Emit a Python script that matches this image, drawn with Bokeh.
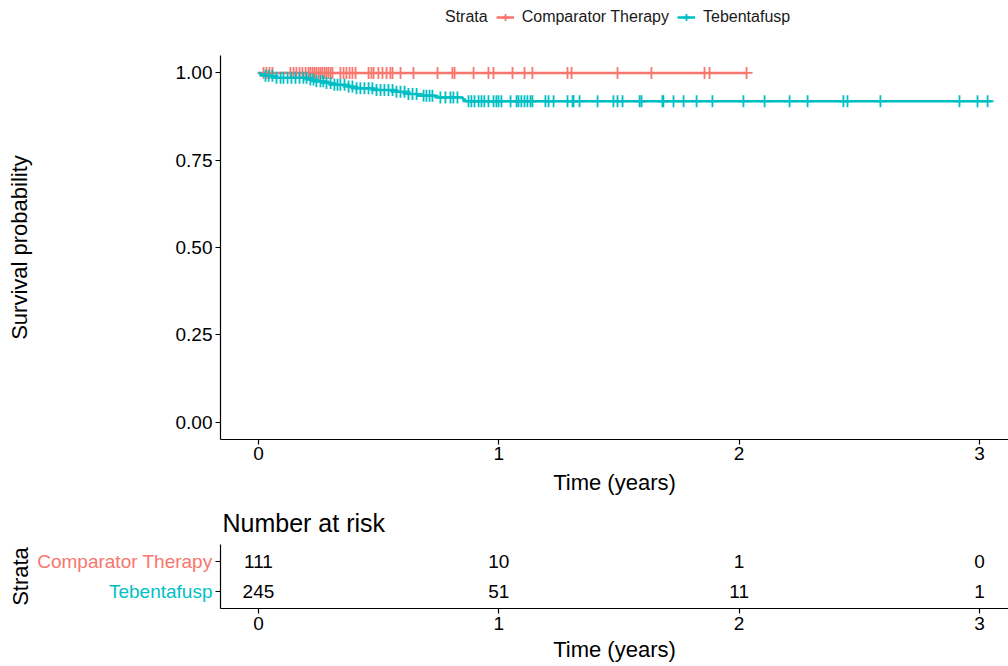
import numpy as np
from bokeh.plotting import figure
from bokeh.models import (ColumnDataSource, Range1d, FixedTicker, Legend, LegendItem,
                          NumeralTickFormatter)
from bokeh.layouts import column, row
from bokeh.embed import file_html
from bokeh.resources import INLINE
from bokeh.core.properties import value

# ---------------- data ----------------
strata = ["Comparator Therapy", "Tebentafusp"]
colors = ["#F8766D", "#00BFC4"]

# Tebentafusp KM steps (time in years, survival after the event)
teb_event_times = [0.008, 0.025, 0.06, 0.21, 0.23, 0.28, 0.31, 0.37, 0.40, 0.48,
                   0.57, 0.62, 0.66, 0.74, 0.85, 0.86]
teb_event_surv = [0.996, 0.992, 0.986, 0.981, 0.976, 0.971, 0.966, 0.961, 0.956, 0.951,
                  0.946, 0.940, 0.935, 0.930, 0.925, 0.919]
teb_end_time = 3.05
teb_censor_times = [0.029, 0.042, 0.058, 0.075, 0.092, 0.104, 0.121, 0.137, 0.154, 0.171,
                    0.187, 0.200, 0.216, 0.229, 0.241, 0.258, 0.270, 0.283, 0.300, 0.316,
                    0.329, 0.341, 0.358, 0.375, 0.391, 0.408, 0.424, 0.441, 0.458, 0.474,
                    0.491, 0.508, 0.524, 0.541, 0.558, 0.574, 0.591, 0.608, 0.624, 0.641,
                    0.658, 0.687, 0.699, 0.712, 0.724, 0.757, 0.778, 0.799, 0.811, 0.828,
                    0.874, 0.886, 0.899, 0.916, 0.928, 0.940, 0.957, 0.978, 0.990, 0.999,
                    1.011, 1.049, 1.074, 1.082, 1.094, 1.107, 1.119, 1.132, 1.140, 1.194,
                    1.207, 1.228, 1.286, 1.307, 1.311, 1.336, 1.411, 1.477, 1.494, 1.515,
                    1.586, 1.594, 1.681, 1.685, 1.727, 1.769, 1.823, 1.889, 2.018, 2.106,
                    2.210, 2.285, 2.434, 2.451, 2.588, 2.917, 2.992, 3.034]

# Comparator therapy: no events
comp_event_times = []
comp_event_surv = []
comp_end_time = 2.035
comp_censor_times = [0.021, 0.033, 0.046, 0.058, 0.133, 0.146, 0.158, 0.171, 0.183, 0.196,
                     0.208, 0.216, 0.225, 0.233, 0.241, 0.250, 0.258, 0.266, 0.275, 0.283,
                     0.291, 0.300, 0.308, 0.341, 0.354, 0.366, 0.379, 0.391, 0.404, 0.458,
                     0.470, 0.479, 0.499, 0.516, 0.533, 0.549, 0.558, 0.591, 0.645, 0.745,
                     0.807, 0.816, 0.895, 0.957, 0.978, 1.057, 1.107, 1.140, 1.286, 1.303,
                     1.494, 1.635, 1.856, 1.877, 2.031]

risk_times = [0, 1, 2, 3]
risk_comp = [111, 10, 1, 0]
risk_teb = [245, 51, 11, 1]

y_ticks = [0, 0.25, 0.5, 0.75, 1.0]
x_ticks = [0, 1, 2, 3]

FONT = "Liberation Sans"
TXT = "#000000"
X0, X1 = -0.158, 3.121
LW = 2.5
MSIZE = 12
MLW = 1.8


def surv_at(times, ev_t, ev_s):
    out = []
    for t in times:
        s = 1.0
        for et, es in zip(ev_t, ev_s):
            if et <= t:
                s = es
        out.append(s)
    return out


def step_xy(ev_t, ev_s, end):
    xs = [0.0] + list(ev_t) + [end]
    ys = [1.0] + list(ev_s) + [ev_s[-1] if ev_s else 1.0]
    return xs, ys


def style_axis(ax):
    ax.axis_line_color = TXT
    ax.axis_line_width = 1.2
    ax.major_tick_line_color = TXT
    ax.major_tick_line_width = 1.2
    ax.major_tick_out = 5
    ax.major_tick_in = 0
    ax.minor_tick_line_color = None
    ax.major_label_text_font = FONT
    ax.major_label_text_font_size = "19px"
    ax.major_label_text_color = TXT
    ax.axis_label_text_font = FONT
    ax.axis_label_text_font_size = "22px"
    ax.axis_label_text_font_style = "normal"
    ax.axis_label_text_color = TXT


# ---------------- legend strip ----------------
lg = figure(width=1008, height=55, x_range=Range1d(0, 1), y_range=Range1d(0, 1),
            x_axis_type=None, y_axis_type=None, output_backend="svg", toolbar_location=None,
            min_border_left=0, min_border_right=0, min_border_top=0, min_border_bottom=0)
lg.outline_line_color = None
lg.grid.visible = False
items = []
# proxy renderers (their single point lies outside the strip's ranges, so only the
# legend keys are visible)
dummy = lg.scatter(x=[5], y=[5], marker="circle", size=1, line_alpha=0, fill_alpha=0)
items.append(LegendItem(label="Strata", renderers=[dummy]))
for name, col in zip(strata, colors):
    l_ = lg.line(x=[5, 6], y=[5, 5], line_color=col, line_width=LW)
    s_ = lg.scatter(x=[5], y=[5], marker="cross", size=MSIZE, line_color=col,
                    line_width=MLW)
    items.append(LegendItem(label=name, renderers=[l_, s_]))
leg = Legend(items=items, orientation="horizontal", location=(199, 27),
             border_line_color=None, background_fill_alpha=0, padding=0, margin=0,
             spacing=8, glyph_width=18, glyph_height=22, label_standoff=8,
             label_text_font=FONT, label_text_font_size="16px",
             label_text_color="#1a1a1a")
lg.add_layout(leg, "center")

# ---------------- main KM plot ----------------
p = figure(width=1008, height=444, x_range=Range1d(X0, X1), y_range=Range1d(-0.05, 1.05),
           output_backend="svg", toolbar_location=None,
           min_border_left=220, min_border_right=0, min_border_top=0, min_border_bottom=60)
p.outline_line_color = None
p.grid.visible = False

groups = [
    (comp_event_times, comp_event_surv, comp_end_time, comp_censor_times, colors[0]),
    (teb_event_times, teb_event_surv, teb_end_time, teb_censor_times, colors[1]),
]
for name, (et, es, end, ct, col) in zip(strata, groups):
    xs, ys = step_xy(et, es, end)
    p.step(x=xs, y=ys, mode="after", line_color=col, line_width=LW)
    src = ColumnDataSource(dict(t=ct, s=surv_at(ct, et, es)))
    p.scatter(x="t", y="s", source=src, marker="cross", size=MSIZE, line_color=col,
              line_width=MLW)

style_axis(p.xaxis[0])
style_axis(p.yaxis[0])
p.yaxis.ticker = FixedTicker(ticks=y_ticks)
p.yaxis.formatter = NumeralTickFormatter(format="0.00")
p.yaxis.major_label_standoff = 3
p.yaxis.axis_label = "Survival probability"
p.yaxis.axis_label_standoff = 141

p.xaxis.ticker = FixedTicker(ticks=x_ticks)
p.xaxis.major_label_standoff = 2
p.xaxis.axis_label = "Time (years)"
p.xaxis.axis_label_standoff = 7

# ---------------- risk table ----------------
RT_TOP, RT_BOT, RT_H = 45, 58, 167
yr = Range1d(0.4, 2.6)

rl = figure(width=214, height=RT_H, x_range=Range1d(0, 214), y_range=yr,
            x_axis_type=None, y_axis_type=None, output_backend="svg", toolbar_location=None,
            min_border_left=0, min_border_right=0, min_border_top=RT_TOP,
            min_border_bottom=RT_BOT)
rl.outline_line_color = None
rl.grid.visible = False
lab_src = ColumnDataSource(dict(x=[212, 212], y=[2, 1], txt=strata, col=colors))
rl.text(x="x", y="y", text="txt", text_color="col", source=lab_src, text_align="right",
        text_baseline="middle", text_font=value(FONT), text_font_size="19px")
rl.text(x=[20], y=[1.5], text=["Strata"], angle=np.pi / 2, text_align="center",
        text_baseline="middle", text_font=value(FONT), text_font_size="22px",
        text_color=TXT)

r = figure(width=1008 - 214, height=RT_H, x_range=Range1d(X0, X1), y_range=yr,
           output_backend="svg", toolbar_location=None,
           min_border_left=6, min_border_right=0, min_border_top=RT_TOP,
           min_border_bottom=RT_BOT, title="Number at risk")
r.outline_line_color = None
r.grid.visible = False
r.title.text_font = FONT
r.title.text_font_size = "25px"
r.title.text_font_style = "normal"
r.title.text_color = TXT
r.title.align = "left"
r.title.offset = 2
r.title.standoff = 15

rows_ = [(risk_comp, 2), (risk_teb, 1)]
for counts, yy in rows_:
    src = ColumnDataSource(dict(x=risk_times, y=[yy] * len(risk_times),
                                txt=[str(c) for c in counts]))
    r.text(x="x", y="y", text="txt", source=src, text_align="center",
           text_baseline="middle", text_font=value(FONT), text_font_size="19px",
           text_color=TXT)

style_axis(r.xaxis[0])
style_axis(r.yaxis[0])
r.yaxis.ticker = FixedTicker(ticks=[1, 2])
r.yaxis.major_label_overrides = {1: "", 2: ""}
r.yaxis.major_label_standoff = 0
r.yaxis.major_label_text_font_size = "0px"

r.xaxis.ticker = FixedTicker(ticks=x_ticks)
r.xaxis.major_label_standoff = 3
r.xaxis.axis_label = "Time (years)"
r.xaxis.axis_label_standoff = 4

layout = column(lg, p, row(rl, r, spacing=0), spacing=0)
open("out.html", "w").write(file_html(layout, INLINE))
